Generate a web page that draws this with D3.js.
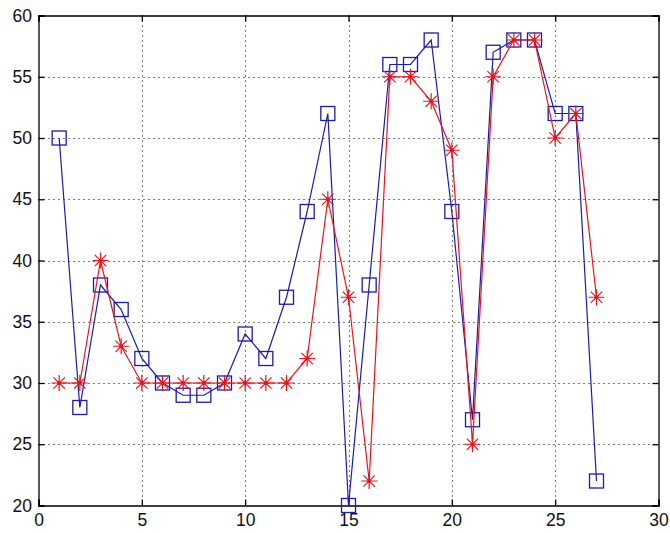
<!DOCTYPE html>
<html><head><meta charset="utf-8">
<script src="https://cdn.jsdelivr.net/npm/d3@7"></script>
<style>body{margin:0;background:#fff;}svg{display:block;}</style>
</head><body>
<script>
const xs = [1,2,3,4,5,6,7,8,9,10,11,12,13,14,15,16,17,18,19,20,21,22,23,24,25,26,27];
const blueValues = [50,28,38,36,32,30,29,29,30,34,32,37,44,52,20,38,56,56,58,44,27,57,58,58,52,52,22];
const redValues  = [30,30,40,33,30,30,30,30,30,30,30,30,32,45,37,22,55,55,53,49,25,55,58,58,50,52,37];
const xTicks = [0,5,10,15,20,25,30];
const yTicks = [20,25,30,35,40,45,50,55,60];

const W = 670, H = 533;
const L = 38.5, R = 658.5, T = 15.5, B = 505.5;
const svg = d3.select("body").append("svg").attr("width", W).attr("height", H);
const x = d3.scaleLinear().domain([0,30]).range([L,R]);
const y = d3.scaleLinear().domain([20,60]).range([B,T]);

const g = svg.append("g");
// grid
g.selectAll(".gx").data(xTicks.slice(1,-1)).enter().append("line")
  .attr("x1", d=>Math.round(x(d))+0.5).attr("x2", d=>Math.round(x(d))+0.5)
  .attr("y1", T).attr("y2", B).attr("stroke","#000").attr("stroke-width",1.1).attr("stroke-dasharray","1,4");
g.selectAll(".gy").data(yTicks.slice(1,-1)).enter().append("line")
  .attr("y1", d=>Math.round(y(d))+0.5).attr("y2", d=>Math.round(y(d))+0.5)
  .attr("x1", L).attr("x2", R).attr("stroke","#000").attr("stroke-width",1.1).attr("stroke-dasharray","1,4");

// axes with inner ticks
const font = "'Liberation Sans', Arial, sans-serif";
const axB = d3.axisBottom(x).tickValues(xTicks).tickSize(-6).tickPadding(8).tickFormat(d3.format("d"));
const axT = d3.axisTop(x).tickValues(xTicks).tickSize(-6).tickFormat("");
const axL = d3.axisLeft(y).tickValues(yTicks).tickSize(-6).tickPadding(6.5).tickFormat(d3.format("d"));
const axR = d3.axisRight(y).tickValues(yTicks).tickSize(-6).tickFormat("");
function style(sel){
  sel.selectAll("path").attr("stroke","#000").attr("stroke-width",1.3);
  sel.selectAll("line").attr("stroke","#000").attr("stroke-width",1.3);
  sel.selectAll("text").attr("fill","#111").style("font-family",font).style("font-size","17.5px");
}
svg.append("g").attr("transform",`translate(0,${B})`).call(axB).call(style);
svg.append("g").attr("transform",`translate(0,${T})`).call(axT).call(style);
svg.append("g").attr("transform",`translate(${L},0)`).call(axL).call(style);
svg.append("g").attr("transform",`translate(${R},0)`).call(axR).call(style);

const blue = "#1c1ca8", red = "#e8141c";
const line = d3.line().x((d,i)=>x(xs[i])).y(d=>y(d));

// blue series
svg.append("path").datum(blueValues).attr("d", line).attr("fill","none").attr("stroke",blue).attr("stroke-width",1.2);
svg.selectAll(".sq").data(blueValues).enter().append("rect")
  .attr("x",(d,i)=>x(xs[i])-7).attr("y",d=>y(d)-7).attr("width",14).attr("height",14)
  .attr("fill","none").attr("stroke",blue).attr("stroke-width",1.3);

// red series
svg.append("path").datum(redValues).attr("d", line).attr("fill","none").attr("stroke",red).attr("stroke-width",1.2);
const st = svg.selectAll(".st").data(redValues).enter().append("g")
  .attr("transform",(d,i)=>`translate(${x(xs[i])},${y(d)})`);
const a = 8, b = 5.7;
st.append("path").attr("d",`M${-a},0L${a},0M0,${-a}L0,${a}M${-b},${-b}L${b},${b}M${-b},${b}L${b},${-b}`)
  .attr("stroke",red).attr("stroke-width",1.2).attr("fill","none");
st.append("circle").attr("r",2).attr("fill",red);
</script>
</body></html>
